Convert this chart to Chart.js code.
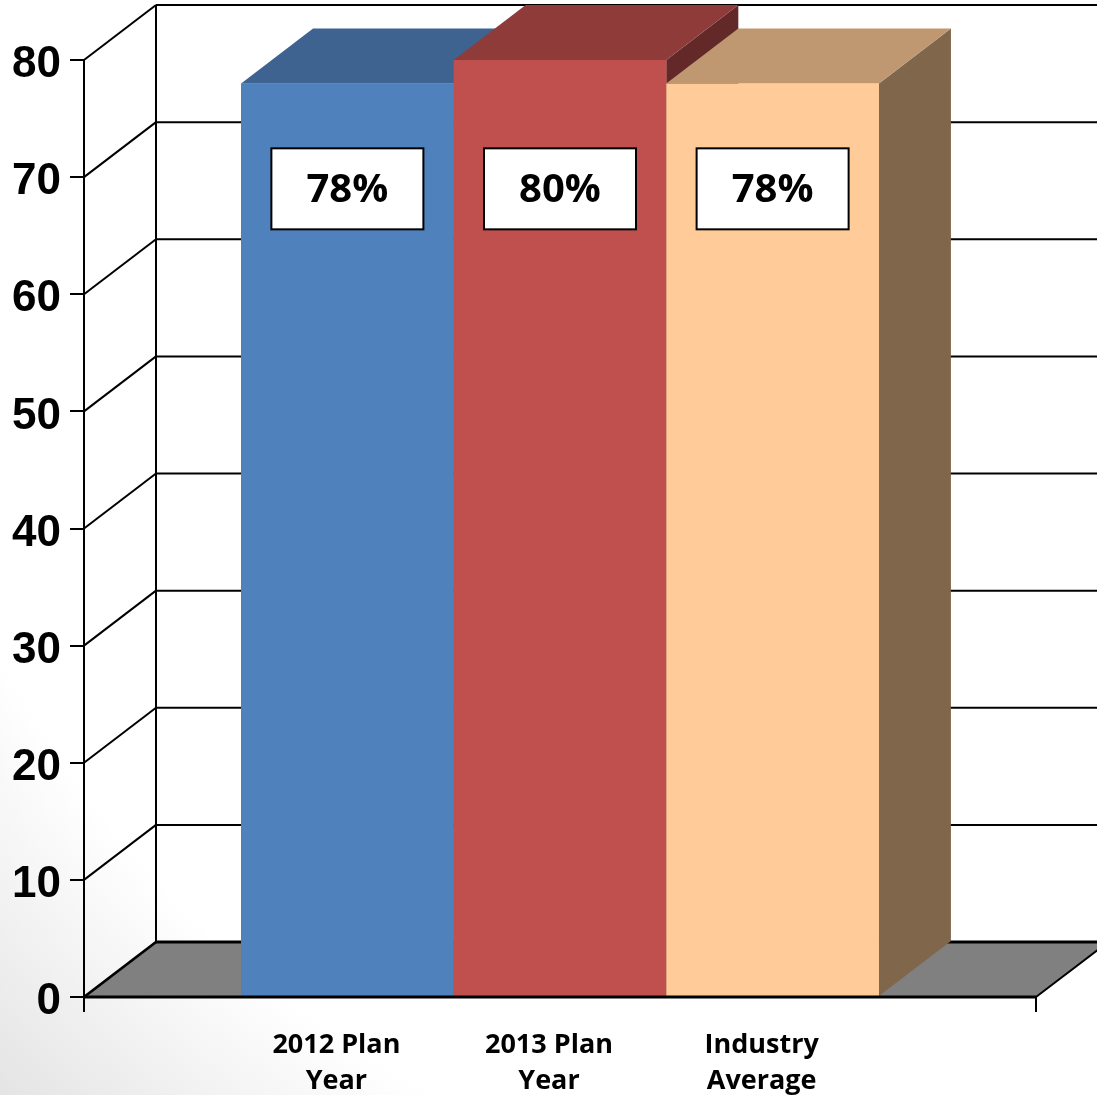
<!DOCTYPE html>
<html>
<head>
<meta charset="utf-8">
<script src="https://cdn.jsdelivr.net/npm/chart.js@4.4.0/dist/chart.umd.min.js"></script>
<style>
  html, body { margin: 0; padding: 0; }
  body { background: radial-gradient(circle at 85% 15%, #ffffff 80%, #e4e4e4 100%); }
  #wrap { width: 1097px; height: 1095px; }
</style>
</head>
<body>
<div id="wrap"><canvas id="barChart" width="1097" height="1095"></canvas></div>
<script>
// data
const categories = [["2012 Plan", "Year"], ["2013 Plan", "Year"], ["Industry", "Average"]];
const values = [78, 80, 78];
const valueLabels = ["78%", "80%", "78%"];
const yTicks = [0, 10, 20, 30, 40, 50, 60, 70, 80];

// colours per bar (front, top, side)
const frontColors = ["#4F81BD", "#C0504D", "#FFCB98"];
const topColors = ["#3E6390", "#8E3B3A", "#BF9770"];
const sideColors = ["#31507A", "#632828", "#80664B"];

// fake 3D depth of the plot box
const DX = 72;
const DY = -55;

function line(ctx, x1, y1, x2, y2) {
  ctx.beginPath();
  ctx.moveTo(x1, y1);
  ctx.lineTo(x2, y2);
  ctx.stroke();
}

function poly(ctx, pts, fill) {
  ctx.fillStyle = fill;
  ctx.beginPath();
  ctx.moveTo(pts[0][0], pts[0][1]);
  for (let i = 1; i < pts.length; i++) ctx.lineTo(pts[i][0], pts[i][1]);
  ctx.closePath();
  ctx.fill();
}

const box3d = {
  id: "box3d",
  beforeDatasetsDraw(chart) {
    const { ctx, chartArea: a, scales: { y } } = chart;
    ctx.save();
    // floor
    poly(ctx, [[a.left, a.bottom], [a.right, a.bottom], [a.right + DX, a.bottom + DY], [a.left + DX, a.bottom + DY]], "#808080");
    // back wall grid + left wall diagonals
    ctx.strokeStyle = "#000";
    yTicks.forEach((v) => {
      const py = y.getPixelForValue(v);
      ctx.lineWidth = v === 0 ? 2.8 : 2;
      line(ctx, a.left, py, a.left + DX, py + DY);
      line(ctx, a.left + DX, py + DY, a.right + DX + 10, py + DY);
    });
    ctx.lineWidth = 2;
    line(ctx, a.left + DX, a.top + DY, a.left + DX, a.bottom + DY);
    line(ctx, a.right, a.bottom, a.right + DX, a.bottom + DY);
    ctx.restore();
  },
  afterDatasetsDraw(chart) {
    const { ctx, chartArea: a, scales: { y } } = chart;
    ctx.save();
    // side, top and front of each bar, left to right
    chart.data.datasets.forEach((ds, i) => {
      const bar = chart.getDatasetMeta(i).data[0];
      const l = bar.x - bar.width / 2;
      const r = bar.x + bar.width / 2;
      const t = bar.y;
      const b = bar.base;
      poly(ctx, [[r, t], [r + DX, t + DY], [r + DX, b + DY], [r, b]], sideColors[i]);
      poly(ctx, [[l, t], [r, t], [r + DX, t + DY], [l + DX, t + DY]], topColors[i]);
      poly(ctx, [[l, t], [r, t], [r, b], [l, b]], frontColors[i]);
    });

    // front axis lines
    ctx.strokeStyle = "#000";
    ctx.lineWidth = 2;
    line(ctx, a.left, a.top, a.left, a.bottom + 15);
    ctx.lineWidth = 2.8;
    line(ctx, a.left, a.bottom, a.right, a.bottom);
    ctx.lineWidth = 2;
    line(ctx, a.right, a.bottom, a.right, a.bottom + 15);

    // value boxes
    const boxY = y.getPixelForValue(69);
    chart.data.datasets.forEach((ds, i) => {
      const bar = chart.getDatasetMeta(i).data[0];
      const w = 152, h = 81;
      ctx.fillStyle = "#fff";
      ctx.fillRect(bar.x - w / 2, boxY - h / 2, w, h);
      ctx.lineWidth = 2;
      ctx.strokeStyle = "#000";
      ctx.strokeRect(bar.x - w / 2, boxY - h / 2, w, h);
      ctx.fillStyle = "#000";
      ctx.font = "bold 40px 'Open Sans'";
      ctx.textAlign = "center";
      ctx.textBaseline = "middle";
      ctx.fillText(valueLabels[i], bar.x, boxY + 2);
    });

    // category labels under the bars
    ctx.font = "bold 27px 'Open Sans'";
    ctx.textAlign = "center";
    ctx.textBaseline = "alphabetic";
    ctx.fillStyle = "#000";
    categories.forEach((lines, i) => {
      const bar = chart.getDatasetMeta(i).data[0];
      lines.forEach((txt, k) => {
        ctx.fillText(txt, bar.x - 11, a.bottom + 56 + k * 36);
      });
    });
    ctx.restore();
  },
};

const data = {
  labels: [""],
  datasets: categories.map((c, i) => ({
    label: c.join(" "),
    data: [values[i]],
    backgroundColor: frontColors[i],
    borderWidth: 0,
  })),
};

const config = {
  type: "bar",
  data: data,
  options: {
    responsive: false,
    animation: false,
    categoryPercentage: 0.67,
    barPercentage: 1,
    layout: {
      padding: { top: 60, right: 61, left: 0, bottom: 0 },
    },
    plugins: {
      legend: { display: false },
      tooltip: { enabled: false },
    },
    scales: {
      x: {
        grid: { display: false },
        border: { display: false },
        ticks: { display: false },
        afterFit: (s) => { s.height = 98; },
      },
      y: {
        min: 0,
        max: 80,
        ticks: {
          stepSize: 10,
          color: "#000",
          padding: 9,
          labelOffset: 5,
          font: { family: "Liberation Sans", size: 44, weight: "bold" },
        },
        grid: { drawOnChartArea: false, tickLength: 14, color: "#000", lineWidth: 2 },
        border: { display: false },
        afterFit: (s) => { s.width = 84; },
      },
    },
  },
  plugins: [box3d],
};

const ctx = document.getElementById("barChart").getContext("2d");
new Chart(ctx, config);
</script>
</body>
</html>
